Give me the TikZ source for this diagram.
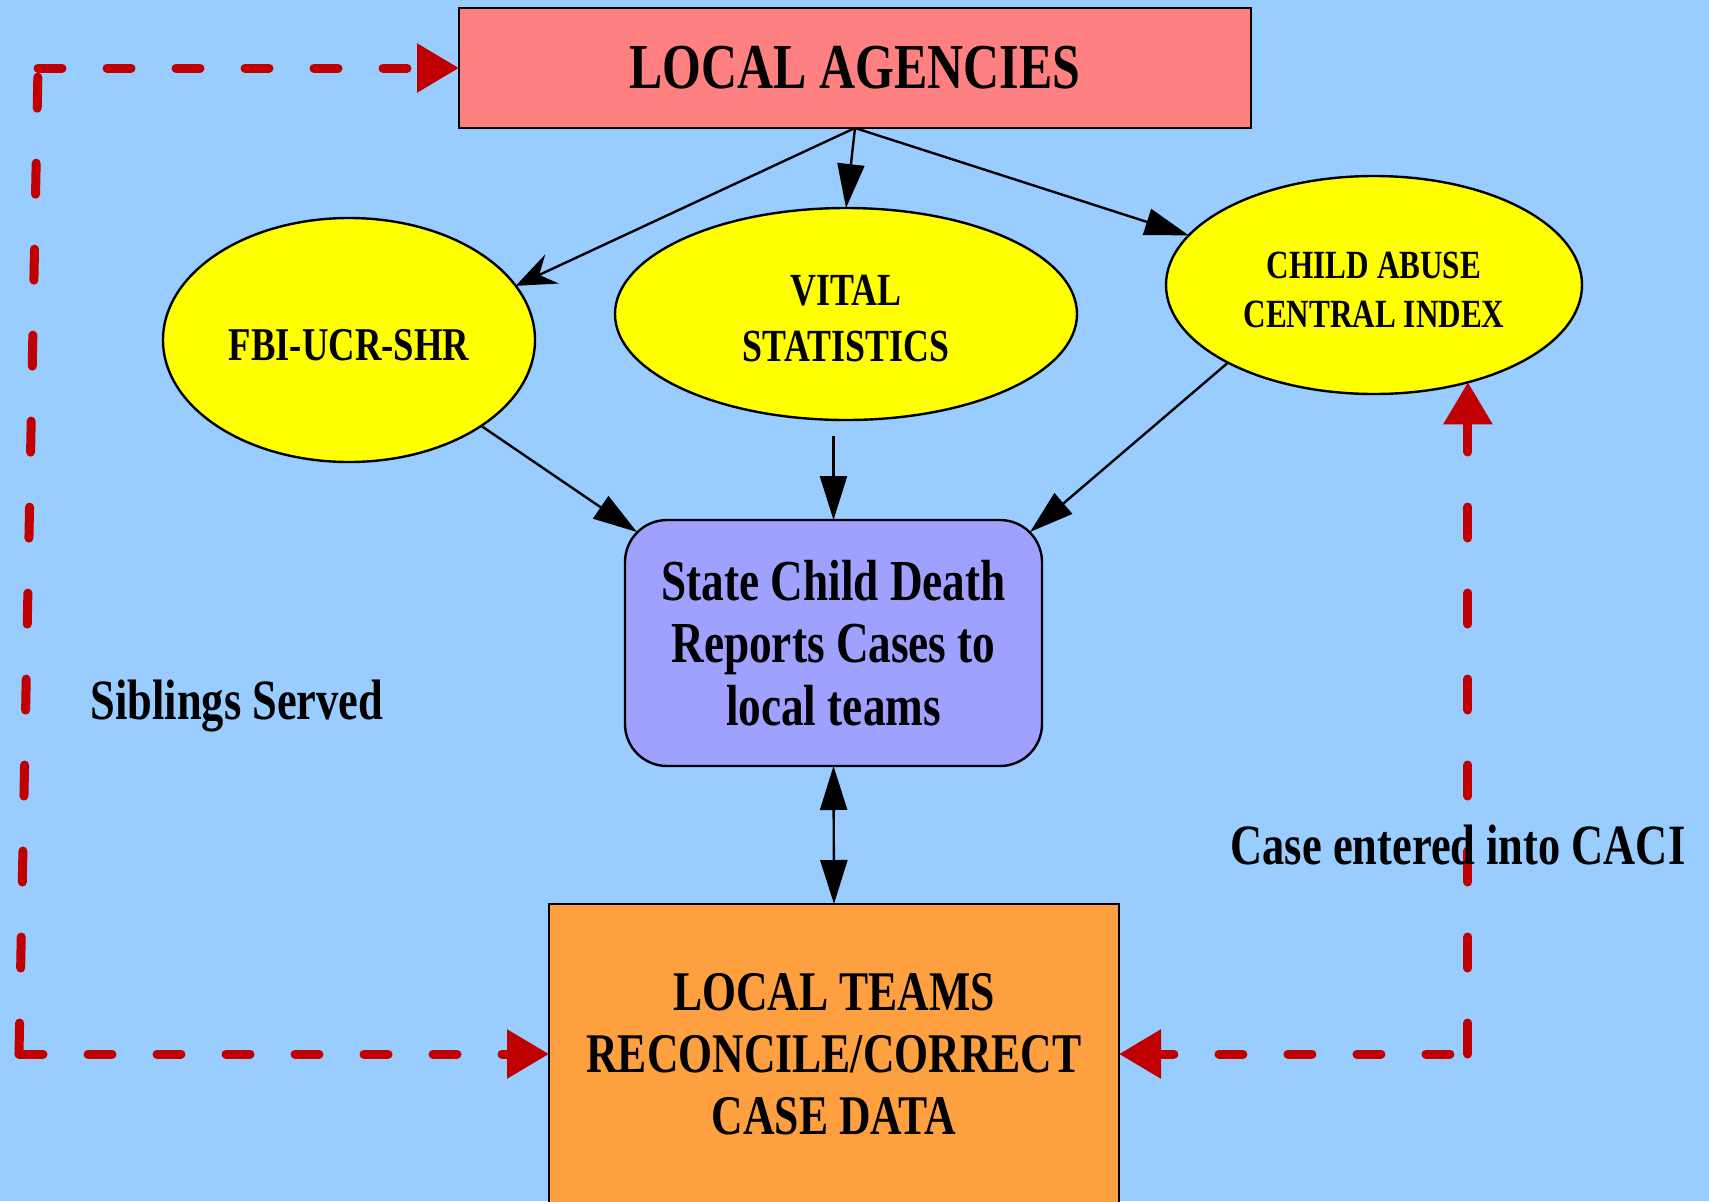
\documentclass[tikz,border=0pt]{standalone}
\usepackage{fontspec}
\newfontfamily\gvfont{Liberation Serif}[FakeStretch=0.78]
\usetikzlibrary{shapes.geometric,arrows.meta,calc}
\definecolor{bgblue}{HTML}{99CCFF}
\definecolor{redline}{HTML}{C00000}
\definecolor{salmonbox}{HTML}{FF8080}
\definecolor{lavenderbox}{HTML}{A0A0FF}
\definecolor{orangebox}{HTML}{FFA040}
\definecolor{ovalyellow}{HTML}{FFFF00}
\newcommand\gvsize[2]{\fontsize{#1}{#2}\selectfont}
\tikzset{
  RT/.tip={Triangle[length=21pt,width=23.5pt]},
  BT/.tip={Triangle[length=22pt,width=13.5pt]},
  VT/.tip={Stealth[length=20pt,width=16pt,inset=7pt]},
  box/.style={draw=black, line width=1.2pt, outer sep=0pt, inner sep=0pt, align=center},
  oval/.style={ellipse, draw=black, line width=1.2pt, fill=ovalyellow, outer sep=0pt, inner sep=0pt},
  ovaltext/.style={inner sep=0pt, align=center},
  flowline/.style={draw=black, line width=1.2pt},
  reddash/.style={draw=redline, line width=4.5pt, line cap=round},
  hpat/.style={dash pattern=on 12pt off 22.5pt},
  vpat/.style={dash pattern=on 15.5pt off 27.5pt},
  lbl/.style={inner sep=0pt, font={\gvfont\bfseries\gvsize{28.5}{32}}},
}
\begin{document}
\begin{tikzpicture}[x=0.5pt,y=-0.5pt]
\clip (0,0) rectangle (1709,1201);
\fill[bgblue] (0,0) rectangle (1709,1201);

\node[box, fill=salmonbox, minimum width=396pt, minimum height=60pt,
      font={\gvfont\bfseries\gvsize{32}{36}}] (agencies) at (855,68) {LOCAL AGENCIES};
\node[oval, minimum width=186pt, minimum height=122pt] (fbi) at (349,340) {};
\node[oval, minimum width=231pt, minimum height=106pt] (vital) at (846,314) {};
\node[oval, minimum width=208pt, minimum height=109pt] (caci) at (1374,285) {};
\node[ovaltext, font={\gvfont\bfseries\gvsize{23.5}{28}}] (fbitxt) at ($(fbi.center)+(0,5)$) {FBI-UCR-SHR};
\node[ovaltext, font={\gvfont\bfseries\gvsize{23}{28}}] (vitaltxt) at ($(vital.center)+(0,5)$) {VITAL\\STATISTICS};
\node[ovaltext, font={\gvfont\bfseries\gvsize{20}{24.5}}] (cacitxt) at ($(caci.center)+(0,5)$) {CHILD ABUSE\\CENTRAL INDEX};
\node[box, fill=lavenderbox, rounded corners=21pt, minimum width=208.5pt, minimum height=123pt,
      font={\gvfont\bfseries\gvsize{29}{31.25}}] (state) at (833.5,643) {State Child Death\\Reports Cases to\\local teams};
\node[box, fill=orangebox, minimum width=285pt, minimum height=150pt,
      font={\gvfont\bfseries\gvsize{28}{31}}] (teams) at (834,1054) {LOCAL TEAMS\\RECONCILE/CORRECT\\CASE DATA};

% black connectors
\coordinate (stnw) at ($(state.north west)+(12,12)$);
\coordinate (stne) at ($(state.north east)+(-12,12)$);
\coordinate (vs) at ($(state.north |- vital.south)+(0,16)$);
\draw[flowline, -VT] (agencies.south) -- (fbi.18);
\draw[flowline, -BT] (agencies.south) -- (vital.north);
\draw[flowline, -BT] (agencies.south) -- (caci.165);
\draw[flowline, -BT] (fbi.-33) -- (stnw);
\draw[flowline, -BT] (vs) -- (state.north);
\draw[flowline, -BT] (caci.208) -- (stne);
\draw[flowline, BT-BT] (state.south) -- (teams.north);

% red dashed connectors
\coordinate (lt) at (38,68);
\coordinate (lb) at (19,1054);
\coordinate (rc) at (teams.east -| caci.-46);
\draw[reddash, hpat, -RT] (lt) -- (agencies.west);
\draw[reddash, vpat] (lb) -- (lt);
\draw[reddash, hpat, -RT] (lb) -- (teams.west);
\draw[reddash, hpat, dash phase=25.5pt, -RT] (rc) -- (teams.east);
\draw[reddash, vpat, -RT] (rc) -- (caci.-46);

% labels
\node[lbl, anchor=base] (sib) at (237,719) {Siblings Served};
\node[lbl, anchor=base] (caselbl) at (1458,864) {Case entered into CACI};
\end{tikzpicture}
\end{document}
